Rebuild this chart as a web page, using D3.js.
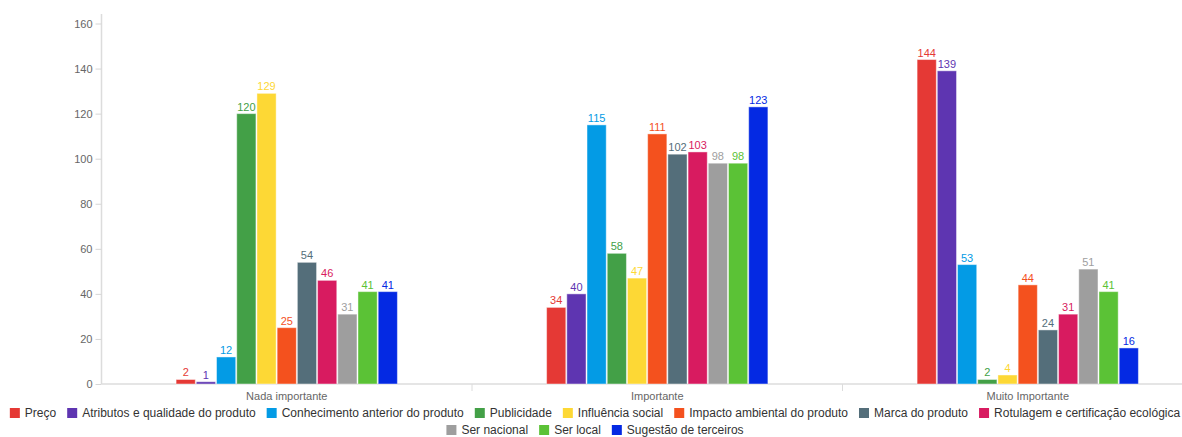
<!DOCTYPE html>
<html>
<head>
<meta charset="utf-8">
<script src="https://cdn.jsdelivr.net/npm/d3@7"></script>
<style>
  html, body { margin: 0; padding: 0; background: #fff; }
  svg { display: block; font-family: "Liberation Sans", Arial, sans-serif; }
</style>
</head>
<body>
<svg id="chart" width="1182" height="437"></svg>
<script>
// Importance levels (x categories)
const categories = ["Nada importante", "Importante", "Muito Importante"];

// Factors (series)
const seriesNames = [
  "Preço",
  "Atributos e qualidade do produto",
  "Conhecimento anterior do produto",
  "Publicidade",
  "Influência social",
  "Impacto ambiental do produto",
  "Marca do produto",
  "Rotulagem e certificação ecológica",
  "Ser nacional",
  "Ser local",
  "Sugestão de terceiros"
];

// Counts per importance level, in series order
const nadaImportante   = [2, 1, 12, 120, 129, 25, 54, 46, 31, 41, 41];
const importante       = [34, 40, 115, 58, 47, 111, 102, 103, 98, 98, 123];
const muitoImportante  = [144, 139, 53, 2, 4, 44, 24, 31, 51, 41, 16];

const yTicks = [0, 20, 40, 60, 80, 100, 120, 140, 160];

const colors = ["#e53935", "#5e35b1", "#039be5", "#43a047", "#fdd835",
                "#f4511e", "#546e7a", "#d81b60", "#9e9e9e", "#5bc236", "#0429e3"];

const valuesByCategory = [nadaImportante, importante, muitoImportante];

const svg = d3.select("#chart");

const x0 = d3.scaleBand().domain(categories).range([101.5, 1213]).paddingInner(0).paddingOuter(0);
const bw = x0.bandwidth();
// series occupy the middle 60% of each category band
const x1 = d3.scaleBand().domain(seriesNames).range([bw * 0.2, bw * 0.8]).padding(0);
const y = d3.scaleLinear().domain([0, 160]).range([384, 23.5]);
const color = d3.scaleOrdinal().domain(seriesNames).range(colors);

// Y axis
const yAxis = svg.append("g").attr("transform", "translate(101.5,0)")
  .call(d3.axisLeft(y).tickValues(yTicks).tickSize(6).tickPadding(3));
yAxis.select(".domain").attr("d", "M0,14V384").attr("stroke", "#dcdcdc").attr("stroke-width", 1.5);
yAxis.selectAll(".tick line").attr("stroke", "#d6d6d6");
yAxis.selectAll(".tick text").attr("fill", "#666").attr("font-size", 11)
  .attr("font-family", "'Liberation Sans', Arial, sans-serif");

// X axis
const xAxis = svg.append("g").attr("transform", "translate(0,384)")
  .call(d3.axisBottom(x0).tickSize(0).tickPadding(8));
xAxis.select(".domain").attr("d", "M101.5,0H1213").attr("stroke", "#dcdcdc").attr("stroke-width", 1.5);
xAxis.selectAll(".tick text").attr("fill", "#666").attr("font-size", 11)
  .attr("font-family", "'Liberation Sans', Arial, sans-serif");
// separators between categories
xAxis.selectAll(".sep").data(categories.slice(1)).enter().append("line")
  .attr("x1", d => x0(d)).attr("x2", d => x0(d))
  .attr("y1", 0).attr("y2", 7).attr("stroke", "#dcdcdc").attr("stroke-width", 1);

// Bars
const groups = svg.append("g").selectAll("g").data(categories).enter().append("g")
  .attr("transform", d => `translate(${x0(d)},0)`);

groups.each(function(cat, ci) {
  const g = d3.select(this);
  const data = seriesNames.map((s, i) => ({ s, v: valuesByCategory[ci][i] }));
  g.selectAll("rect").data(data).enter().append("rect")
    .attr("x", d => x1(d.s) + 0.5)
    .attr("y", d => y(d.v))
    .attr("width", x1.bandwidth() - 1)
    .attr("height", d => y(0) - y(d.v))
    .attr("fill", d => color(d.s))
    .attr("stroke", "rgba(255,255,255,0.45)")
    .attr("stroke-width", 1);
  g.selectAll("text").data(data).enter().append("text")
    .attr("x", d => x1(d.s) + x1.bandwidth() / 2)
    .attr("y", d => y(d.v) - 3)
    .attr("text-anchor", "middle")
    .attr("font-size", 11)
    .attr("fill", d => color(d.s))
    .text(d => d.v);
});

// Legend: two centered rows
const legendRowBreak = 8;
const legend = svg.append("g");
const items = seriesNames.map((s) => {
  const t = legend.append("text").attr("font-size", 12).attr("fill", "#333").text(s);
  return { s, t, w: t.node().getComputedTextLength() };
});
const sq = 10, gapText = 5, gapItem = 11;
const rows = [items.slice(0, legendRowBreak), items.slice(legendRowBreak)];
rows.forEach((row, ri) => {
  const total = row.reduce((a, it, i) => a + sq + gapText + it.w + (i ? gapItem : 0), 0);
  let cx = 595 - total / 2;
  const cy = 413 + ri * 17;
  row.forEach(it => {
    legend.append("rect").attr("x", cx).attr("y", cy - sq / 2).attr("width", sq).attr("height", sq)
      .attr("fill", color(it.s));
    it.t.attr("x", cx + sq + gapText).attr("y", cy + 4.2);
    cx += sq + gapText + it.w + gapItem;
  });
});
</script>
</body>
</html>
